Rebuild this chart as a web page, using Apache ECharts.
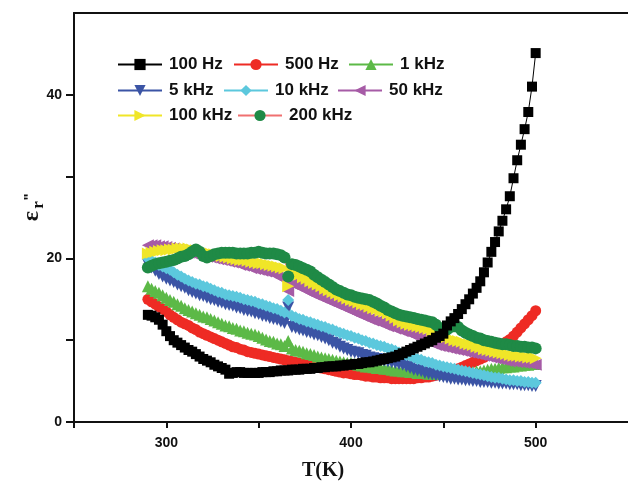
<!DOCTYPE html>
<html>
<head>
<meta charset="utf-8">
<script src="https://cdn.jsdelivr.net/npm/echarts@6/dist/echarts.min.js"></script>
<style>
html,body{margin:0;padding:0;background:#fff;}
#chart{width:628px;height:481px;}
</style>
</head>
<body>
<div id="chart"></div>
<script>
// Temperature (K)
const temps = [
290,292,294,296,298,300,302,304,306,308,
310,312,314,316,318,320,322,324,326,328,
330,332,334,336,338,340,342,344,346,348,
350,352,354,356,358,360,362,364,366,368,
370,372,374,376,378,380,382,384,386,388,
390,392,394,396,398,400,402,404,406,408,
410,412,414,416,418,420,422,424,426,428,
430,432,434,436,438,440,442,444,446,448,
450,452,454,456,458,460,462,464,466,468,
470,472,474,476,478,480,482,484,486,488,
490,492,494,496,498,500];

const hz100 = [
13.1,13.0,12.8,12.5,11.9,11.1,10.5,10.0,9.7,9.4,
9.1,8.8,8.6,8.3,8.0,7.7,7.5,7.3,7.0,6.8,
6.6,6.4,5.9,6.0,6.1,6.1,6.0,6.0,6.0,6.0,
6.0,6.1,6.1,6.1,6.2,6.2,6.3,6.3,6.3,6.4,
6.4,6.4,6.5,6.5,6.5,6.6,6.6,6.7,6.7,6.8,
6.8,6.8,6.9,6.9,7.0,7.0,7.1,7.1,7.2,7.3,
7.3,7.4,7.5,7.6,7.7,7.8,7.9,8.0,8.2,8.4,
8.6,8.8,9.0,9.2,9.4,9.6,9.8,10.0,10.3,10.5,
10.8,11.8,12.3,12.7,13.2,13.8,14.4,15.0,15.7,16.4,
17.2,18.3,19.5,20.8,22.0,23.3,24.6,26.0,27.6,29.8,
32.0,33.9,35.8,37.9,41.0,45.1];

const hz500 = [
15.0,14.7,14.4,14.1,13.8,13.5,13.1,12.8,12.5,12.2,
12.0,11.8,11.5,11.3,11.0,10.8,10.6,10.4,10.2,10.0,
9.8,9.6,9.4,9.2,9.1,8.9,8.8,8.6,8.5,8.4,
8.3,8.2,8.1,8.0,7.9,7.8,7.7,7.6,7.5,7.4,
7.3,7.2,7.1,7.0,6.9,6.8,6.7,6.6,6.5,6.4,
6.3,6.2,6.1,6.0,6.0,5.9,5.8,5.8,5.7,5.6,
5.6,5.5,5.5,5.4,5.4,5.4,5.3,5.3,5.3,5.3,
5.3,5.3,5.3,5.4,5.4,5.5,5.5,5.6,5.7,5.8,
5.9,6.0,6.2,6.3,6.5,6.7,6.9,7.1,7.3,7.5,
7.7,7.9,8.2,8.5,8.8,9.1,9.4,9.8,10.1,10.5,
11.0,11.5,12.0,12.5,13.0,13.6];

const khz1 = [
16.6,16.3,16.0,15.8,15.5,15.2,14.9,14.7,14.4,14.2,
13.9,13.7,13.5,13.3,13.1,12.9,12.8,12.6,12.4,12.2,
12.0,11.8,11.7,11.5,11.4,11.2,11.1,10.9,10.8,10.7,
10.5,10.3,10.1,9.9,9.8,9.6,9.5,9.3,9.9,9.0,
8.8,8.7,8.6,8.4,8.3,8.2,8.0,7.9,7.8,7.7,
7.6,7.5,7.4,7.3,7.2,7.2,7.1,7.0,6.9,6.8,
6.8,6.7,6.6,6.6,6.5,6.5,6.4,6.3,6.3,6.2,
6.2,6.1,6.1,6.0,6.0,6.0,5.9,5.9,5.9,5.9,
5.9,5.9,5.9,5.9,6.0,6.0,6.0,6.1,6.1,6.2,
6.2,6.3,6.4,6.5,6.5,6.6,6.7,6.7,6.8,6.8,
6.9,6.9,7.0,7.0,7.1,7.1];

const khz5 = [
19.3,18.9,18.5,18.1,17.8,17.5,17.3,17.1,16.8,16.6,
16.4,16.1,15.9,15.7,15.5,15.4,15.2,15.0,14.9,14.7,
14.6,14.4,14.3,14.2,14.0,13.9,13.7,13.6,13.5,13.3,
13.2,13.0,12.9,12.7,12.6,12.5,12.3,12.1,14.0,11.6,
11.5,11.3,11.2,11.0,10.9,10.7,10.6,10.4,10.2,10.0,
9.7,9.5,9.2,9.0,8.8,8.6,8.5,8.4,8.2,8.1,
7.9,7.8,7.7,7.6,7.5,7.4,7.3,7.2,7.1,7.0,
6.8,6.6,6.4,6.3,6.2,6.0,5.9,5.8,5.7,5.6,
5.5,5.4,5.3,5.3,5.2,5.2,5.1,5.1,5.0,5.0,
4.9,4.9,4.9,4.8,4.8,4.7,4.7,4.7,4.6,4.6,
4.6,4.5,4.5,4.5,4.4,4.4];

const khz10 = [
20.0,19.7,19.5,19.2,19.0,18.8,18.6,18.3,18.0,17.8,
17.5,17.3,17.1,16.9,16.8,16.6,16.5,16.3,16.1,15.9,
15.8,15.6,15.5,15.4,15.3,15.2,15.0,14.9,14.8,14.7,
14.5,14.4,14.2,14.1,13.9,13.8,13.6,13.4,14.9,13.0,
12.8,12.6,12.5,12.3,12.2,12.0,11.9,11.7,11.6,11.4,
11.3,11.1,10.9,10.8,10.6,10.5,10.3,10.2,10.0,9.9,
9.7,9.6,9.4,9.3,9.2,9.0,8.9,8.7,8.5,8.4,
8.2,8.1,7.9,7.7,7.6,7.4,7.3,7.2,7.0,6.9,
6.8,6.7,6.6,6.5,6.4,6.3,6.2,6.1,6.0,5.9,
5.8,5.7,5.6,5.5,5.4,5.4,5.3,5.2,5.1,5.1,
5.0,5.0,4.9,4.9,4.8,4.8];

const khz50 = [
21.6,21.6,21.6,21.5,21.5,21.4,21.3,21.2,21.1,21.0,
20.9,20.7,20.6,20.5,20.4,20.3,20.2,20.1,20.0,19.9,
19.8,19.7,19.6,19.5,19.4,19.2,19.1,19.0,18.8,18.7,
18.6,18.5,18.4,18.3,18.1,17.9,17.6,17.4,16.0,16.9,
16.7,16.5,16.3,16.0,15.8,15.6,15.4,15.2,15.0,14.8,
14.6,14.4,14.2,14.0,13.8,13.6,13.4,13.2,13.0,12.8,
12.6,12.4,12.3,12.1,11.9,11.7,11.6,11.4,11.3,11.1,
11.0,10.8,10.6,10.4,10.2,10.0,9.8,9.6,9.4,9.3,
9.2,9.1,9.0,8.9,8.8,8.7,8.6,8.5,8.4,8.3,
8.2,8.1,8.0,7.9,7.8,7.7,7.6,7.5,7.4,7.4,
7.3,7.3,7.2,7.2,7.1,7.0];

const khz100 = [
20.6,20.7,20.8,20.9,21.0,21.0,21.1,21.1,21.2,21.2,
21.2,21.2,21.1,21.0,20.9,20.8,20.7,20.6,20.5,20.4,
20.3,20.2,20.1,20.0,19.9,19.8,19.8,19.7,19.6,19.5,
19.4,19.4,19.3,19.2,19.1,19.0,18.9,18.8,16.6,18.6,
18.3,18.0,17.7,17.5,17.2,17.0,16.8,16.6,16.3,16.1,
15.9,15.7,15.5,15.3,15.1,14.9,14.8,14.6,14.4,14.3,
14.1,13.9,13.8,13.6,13.5,13.3,13.0,12.7,12.4,12.2,
12.0,11.9,11.8,11.7,11.6,11.5,11.4,11.2,11.0,10.8,
10.6,10.4,10.2,10.0,9.9,9.8,9.6,9.5,9.4,9.2,
9.1,8.9,8.8,8.7,8.6,8.5,8.4,8.3,8.2,8.1,
8.1,8.0,8.0,7.9,7.9,7.8];

const khz200 = [
18.9,19.1,19.3,19.4,19.5,19.6,19.7,19.8,20.0,20.2,
20.3,20.5,20.8,21.1,20.8,20.3,20.1,20.3,20.5,20.6,
20.7,20.7,20.7,20.7,20.6,20.6,20.6,20.6,20.7,20.7,
20.8,20.7,20.6,20.6,20.6,20.5,20.4,20.1,17.8,19.3,
19.2,19.0,18.8,18.6,18.4,18.0,17.7,17.4,17.1,16.8,
16.5,16.2,16.0,15.8,15.6,15.5,15.3,15.2,15.1,15.0,
14.9,14.7,14.5,14.2,14.0,13.7,13.5,13.3,13.1,13.0,
12.9,12.8,12.7,12.6,12.5,12.4,12.3,12.2,11.9,11.5,
11.1,11.3,11.6,11.7,11.6,11.2,10.9,10.7,10.5,10.3,
10.2,10.0,9.9,9.8,9.7,9.6,9.5,9.5,9.4,9.3,
9.3,9.2,9.2,9.1,9.1,9.0];

const names = ['100 Hz','500 Hz','1 kHz','5 kHz','10 kHz','50 kHz','100 kHz','200 kHz'];
const xTickValues = [250,300,350,400,450,500];
const xLabelValues = [300,400,500];
const yTickValues = [0,10,20,30,40];
const yLabelValues = [0,20,40];

const pairs = vals => temps.map((t,i)=>[t, vals[i]]);

const DOWN = 'path://M0,0L2,0L1,2Z';
const LEFT = 'path://M2,0L2,2L0,1Z';
const RIGHT = 'path://M0,0L0,2L2,1Z';

function mk(name, vals, color, symbol, size, lineColor){
  return {
    name, type:'line', data: pairs(vals),
    symbol, symbolSize:size, showSymbol:true,
    itemStyle:{color:color},
    lineStyle:{color:lineColor||color, width:1},
    emphasis:{disabled:true},
    animation:false
  };
}

// draw order (later = on top)
const series = [
  mk('500 Hz', hz500, '#ee2b24', 'circle', 11),
  mk('1 kHz', khz1, '#5cb947', 'triangle', 12),
  mk('5 kHz', khz5, '#3b54a5', DOWN, 12),
  mk('10 kHz', khz10, '#5cc8dd', 'diamond', 12),
  mk('50 kHz', khz50, '#a65ba6', LEFT, 12),
  mk('100 kHz', khz100, '#f0e628', RIGHT, 12),
  mk('200 kHz', khz200, '#1f8a46', 'circle', 12, '#f07070'),
  mk('100 Hz', hz100, '#000000', 'rect', 10)
];

const legendPos = [
  ['100 Hz',117,56],['500 Hz',233,56],['1 kHz',348,56],
  ['5 kHz',117,82],['10 kHz',223,82],['50 kHz',337,82],
  ['100 kHz',117,107],['200 kHz',237,107]
];
const legends = legendPos.map(([n,l,t])=>({
  data:[n], left:l, top:t, padding:0, itemWidth:44, itemHeight:14,
  selectedMode:false,
  textStyle:{fontSize:17, fontWeight:'bold', fontFamily:'Liberation Sans, Arial, sans-serif', color:'#111', padding:[0,0,0,2]}
}));

const axisFont = {fontSize:14, fontWeight:'bold', fontFamily:'Liberation Sans, Arial, sans-serif', color:'#111'};

const chart = echarts.init(document.getElementById('chart'), null, {renderer:'canvas'});
chart.setOption({
  animation:false,
  backgroundColor:'#ffffff',
  grid:{left:74, right:0, top:13, bottom:59, containLabel:false},
  legend: legends,
  xAxis:[{
    type:'value', min:250, max:550, interval:50,
    axisLine:{show:true, onZero:false, lineStyle:{color:'#111', width:2}},
    axisTick:{show:true, inside:false, length:6, lineStyle:{width:2, color:'#111'}, customValues:xTickValues},
    axisLabel:Object.assign({margin:14, customValues:xLabelValues}, axisFont),
    splitLine:{show:false}
  },{
    type:'value', min:250, max:550, position:'top',
    axisLine:{show:true, onZero:false, lineStyle:{color:'#111', width:2}},
    axisTick:{show:false}, axisLabel:{show:false}, splitLine:{show:false}
  }],
  yAxis:{
    type:'value', min:0, max:50, interval:10,
    axisLine:{show:true, onZero:false, lineStyle:{color:'#111', width:2}},
    axisTick:{show:true, inside:false, length:8, lineStyle:{width:2, color:'#111'}, customValues:yTickValues},
    axisLabel:Object.assign({margin:12, customValues:yLabelValues}, axisFont),
    splitLine:{show:false}
  },
  graphic:[
    {type:'text', x:323, y:471, style:{text:'T(K)', font:'bold 20px "Liberation Serif", "Times New Roman", serif', fill:'#111', align:'center', verticalAlign:'middle'}},
    {type:'text', x:32, y:216, rotation:Math.PI/2, style:{text:'ε', font:'bold 24px "Liberation Serif", "Times New Roman", serif', fill:'#111', align:'center', verticalAlign:'middle'}},
    {type:'text', x:39, y:205, rotation:Math.PI/2, style:{text:'r', font:'bold 17px "Liberation Serif", "Times New Roman", serif', fill:'#111', align:'center', verticalAlign:'middle'}},
    {type:'text', x:30, y:197, rotation:Math.PI/2, style:{text:'"', font:'bold 15px "Liberation Sans", Arial, sans-serif', fill:'#111', align:'center', verticalAlign:'middle'}}
  ],
  series: series
});
</script>
</body>
</html>
